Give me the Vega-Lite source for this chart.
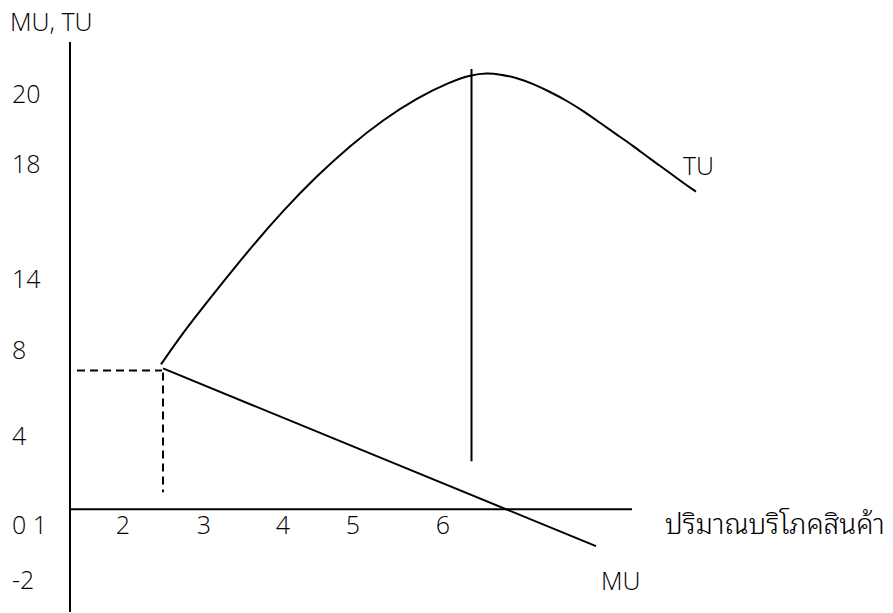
{
  "$schema": "https://vega.github.io/schema/vega-lite/v6.json",
  "width": 893,
  "height": 613,
  "autosize": {"type": "fit", "contains": "padding"},
  "padding": 0,
  "background": "white",
  "config": {"view": {"stroke": null}},
  "datasets": {
    "tu": [
      {"q": 9.1, "u": 14.5}, {"q": 11.3, "u": 17.7}, {"q": 14.7, "u": 22.0},
      {"q": 18.0, "u": 26.1}, {"q": 21.3, "u": 29.9}, {"q": 24.7, "u": 33.4},
      {"q": 28.0, "u": 36.4}, {"q": 31.3, "u": 39.0}, {"q": 34.7, "u": 41.2},
      {"q": 38.0, "u": 42.8}, {"q": 40.1, "u": 43.5}, {"q": 41.7, "u": 43.7},
      {"q": 43.0, "u": 43.55}, {"q": 44.7, "u": 43.2}, {"q": 46.3, "u": 42.6},
      {"q": 48.0, "u": 41.8}, {"q": 49.7, "u": 40.9}, {"q": 51.3, "u": 39.9},
      {"q": 53.0, "u": 38.7}, {"q": 54.7, "u": 37.5}, {"q": 56.3, "u": 36.4},
      {"q": 58.0, "u": 35.1}, {"q": 59.7, "u": 33.9}, {"q": 61.3, "u": 32.7},
      {"q": 62.6, "u": 31.8}
    ],
    "solid": [
      {"name": "vertical axis", "q": 0, "u": -10.3, "q2": 0, "u2": 46.8},
      {"name": "horizontal axis", "q": 0, "u": 0, "q2": 56.2, "u2": 0},
      {"name": "MU", "q": 9.3, "u": 14.1, "q2": 52.6, "u2": -3.7},
      {"name": "TU maximum", "q": 40.15, "u": 44.1, "q2": 40.15, "u2": 4.8}
    ],
    "dashed": [
      {"q": 0.7, "u": 13.9, "q2": 9.2, "u2": 13.9},
      {"q": 9.3, "u": 13.7, "q2": 9.3, "u2": 1.7}
    ],
    "leftLabels": [
      {"text": "MU, TU", "q": -6.0, "u": 48.7},
      {"text": "20", "q": -5.8, "u": 41.5},
      {"text": "18", "q": -5.8, "u": 34.5},
      {"text": "14", "q": -5.8, "u": 23.0},
      {"text": "8", "q": -5.8, "u": 15.8},
      {"text": "4", "q": -5.8, "u": 7.2},
      {"text": "0 1", "q": -5.8, "u": -1.7},
      {"text": "-2", "q": -5.8, "u": -7.2},
      {"text": "TU", "q": 61.3, "u": 34.3},
      {"text": "MU", "q": 53.1, "u": -7.3}
    ],
    "axisTitle": [
      {"text": "ปริมาณบริโภคสินค้า", "q": 59.5, "u": -1.7}
    ],
    "xLabels": [
      {"text": "2", "q": 5.3, "u": -1.7},
      {"text": "3", "q": 13.4, "u": -1.7},
      {"text": "4", "q": 21.3, "u": -1.7},
      {"text": "5", "q": 28.3, "u": -1.7},
      {"text": "6", "q": 37.3, "u": -1.7}
    ]
  },
  "layer": [
    {
      "data": {"name": "solid"},
      "mark": {"type": "rule", "color": "black", "strokeWidth": 2},
      "encoding": {
        "x": {"field": "q", "type": "quantitative", "scale": {"domain": [-7, 82.3], "nice": false, "zero": false}, "axis": null},
        "y": {"field": "u", "type": "quantitative", "scale": {"domain": [-10.3, 51.0], "nice": false, "zero": false}, "axis": null},
        "x2": {"field": "q2"},
        "y2": {"field": "u2"}
      }
    },
    {
      "data": {"name": "dashed"},
      "mark": {"type": "rule", "color": "black", "strokeWidth": 2, "strokeDash": [8, 5]},
      "encoding": {
        "x": {"field": "q", "type": "quantitative", "axis": null},
        "y": {"field": "u", "type": "quantitative", "axis": null},
        "x2": {"field": "q2"},
        "y2": {"field": "u2"}
      }
    },
    {
      "data": {"name": "tu"},
      "mark": {"type": "line", "interpolate": "basis", "color": "black", "strokeWidth": 2},
      "encoding": {
        "x": {"field": "q", "type": "quantitative", "axis": null},
        "y": {"field": "u", "type": "quantitative", "axis": null}
      }
    },
    {
      "data": {"name": "leftLabels"},
      "mark": {"type": "text", "align": "left", "baseline": "middle", "font": "Open Sans", "fontWeight": 300, "fontSize": 25, "color": "black"},
      "encoding": {
        "x": {"field": "q", "type": "quantitative", "axis": null},
        "y": {"field": "u", "type": "quantitative", "axis": null},
        "text": {"field": "text"}
      }
    },
    {
      "data": {"name": "axisTitle"},
      "mark": {"type": "text", "align": "left", "baseline": "middle", "font": "Noto Sans Thai Looped, Noto Sans Thai, Loma, Garuda, Noto Sans", "fontWeight": 300, "fontSize": 28, "color": "black"},
      "encoding": {
        "x": {"field": "q", "type": "quantitative", "axis": null},
        "y": {"field": "u", "type": "quantitative", "axis": null},
        "text": {"field": "text"}
      }
    },
    {
      "data": {"name": "xLabels"},
      "mark": {"type": "text", "align": "center", "baseline": "middle", "font": "Open Sans", "fontWeight": 300, "fontSize": 25, "color": "black"},
      "encoding": {
        "x": {"field": "q", "type": "quantitative", "axis": null},
        "y": {"field": "u", "type": "quantitative", "axis": null},
        "text": {"field": "text"}
      }
    }
  ]
}
